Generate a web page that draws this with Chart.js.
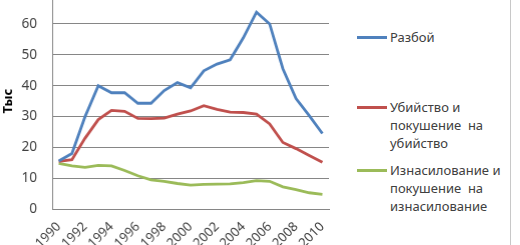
<!DOCTYPE html>
<html>
<head>
<meta charset="utf-8">
<script src="https://cdn.jsdelivr.net/npm/chart.js@4.4.0/dist/chart.umd.min.js"></script>
<style>
    html, body { margin: 0; padding: 0; background: #fff; }
    body { width: 520px; height: 245px; overflow: hidden; position: relative; font-family: 'Noto Sans', sans-serif; }
    #crimeChart { position: absolute; left: 0; top: 0; }
    #legend { position: absolute; left: 357px; top: 0; width: 150px; height: 245px; }
    .item { position: absolute; left: 0; }
    .item .swatch { position: absolute; left: 0; top: 8px; width: 30px; height: 3px; }
    .item .text { position: absolute; left: 33px; top: 0; white-space: pre; font-size: 13px; line-height: 18px; color: #404040; }
    #frame { position: absolute; left: 510px; top: 0; width: 0; height: 245px; border-left: 1px solid #c8c8c8; }
</style>
</head>
<body>
<canvas id="crimeChart" width="340" height="280"></canvas>
<div id="legend"></div>
<div id="frame"></div>
<script>
const years = ['1990', '1991', '1992', '1993', '1994', '1995', '1996', '1997', '1998', '1999', '2000',
    '2001', '2002', '2003', '2004', '2005', '2006', '2007', '2008', '2009', '2010'];
const robbery = [15.6, 18, 30, 40, 37.7, 37.7, 34.3, 34.3, 38.4, 41, 39.3, 44.8, 47, 48.4, 55.5, 63.8, 60, 45.5, 35.8, 30.3, 24.5];
const murder = [15.5, 16, 23, 29, 32, 31.7, 29.4, 29.3, 29.5, 30.8, 31.8, 33.5, 32.3, 31.4, 31.3, 30.8, 27.6, 21.6, 19.6, 17.4, 15.2];
const rape = [14.8, 14, 13.5, 14.2, 14, 12.5, 10.8, 9.5, 9, 8.3, 7.8, 8, 8.1, 8.2, 8.6, 9.2, 9, 7.2, 6.3, 5.3, 4.8];
const seriesNames = ['Разбой', 'Убийство и\nпокушение  на\nубийство', 'Изнасилование и\nпокушение  на\nизнасилование'];
const yTicks = [0, 10, 20, 30, 40, 50, 60, 70];
const colors = ['#4F81BD', '#C0504D', '#9BBB59'];
const legendTops = [28, 98, 161];

// where the plot area sits on the page (top is above the visible window, as in the source image)
const plotBox = { left: 52, top: -7, right: 328, bottom: 209 };

function buildLegend() {
    const legend = document.getElementById('legend');
    seriesNames.forEach((name, i) => {
        const item = document.createElement('div');
        item.className = 'item';
        item.style.top = legendTops[i] + 'px';
        item.innerHTML = `<div class="swatch" style="background:${colors[i]}"></div><div class="text">${name}</div>`;
        legend.appendChild(item);
    });
}

function drawChart() {
    const canvas = document.getElementById('crimeChart');
    const ctx = canvas.getContext('2d');
    const values = [robbery, murder, rape];

    const chart = new Chart(ctx, {
        type: 'line',
        data: {
            labels: years,
            datasets: values.map((data, i) => ({
                label: seriesNames[i],
                data: data,
                borderColor: colors[i],
                borderWidth: 2.8,
                pointRadius: 0,
                tension: 0,
                fill: false
            }))
        },
        options: {
            responsive: false,
            maintainAspectRatio: false,
            animation: false,
            layout: { padding: { top: 10, right: 10, left: 0, bottom: 0 } },
            plugins: {
                legend: { display: false },
                tooltip: { enabled: false }
            },
            scales: {
                x: {
                    offset: true,
                    grid: { display: false, drawTicks: false },
                    border: { color: '#868686' },
                    ticks: {
                        autoSkip: false,
                        maxRotation: 45,
                        minRotation: 45,
                        color: '#404040',
                        font: { family: 'Noto Sans', size: 13 },
                        padding: 10,
                        callback: function(value, index) {
                            return index % 2 === 0 ? years[index] : '';
                        }
                    },
                    afterFit: function(scale) { scale.height = 50; }
                },
                y: {
                    min: 0,
                    max: 70,
                    afterBuildTicks: function(scale) {
                        scale.ticks = yTicks.map(v => ({ value: v }));
                    },
                    grid: { color: '#868686', drawTicks: false },
                    border: { color: '#868686' },
                    ticks: {
                        color: '#404040',
                        font: { family: 'Noto Sans', size: 13.5 },
                        padding: 15
                    },
                    title: {
                        display: true,
                        text: 'Тыс',
                        color: '#000',
                        font: { family: 'Noto Sans', size: 13, weight: 'bold' },
                        padding: 0
                    },
                    afterFit: function(scale) { scale.width = 52; }
                }
            }
        }
    });

    // fit the plot area to the wanted box, then shift the canvas into place
    const wantW = plotBox.right - plotBox.left;
    const wantH = plotBox.bottom - plotBox.top;
    for (let k = 0; k < 3; k++) {
        const ca = chart.chartArea;
        const w = chart.width + (wantW - (ca.right - ca.left));
        const h = chart.height + (wantH - (ca.bottom - ca.top));
        chart.resize(w, h);
    }
    const ca = chart.chartArea;
    canvas.style.left = (plotBox.left - ca.left) + 'px';
    canvas.style.top = (plotBox.top - ca.top) + 'px';
}

document.addEventListener('DOMContentLoaded', () => {
    buildLegend();
    drawChart();
});
</script>
</body>
</html>
